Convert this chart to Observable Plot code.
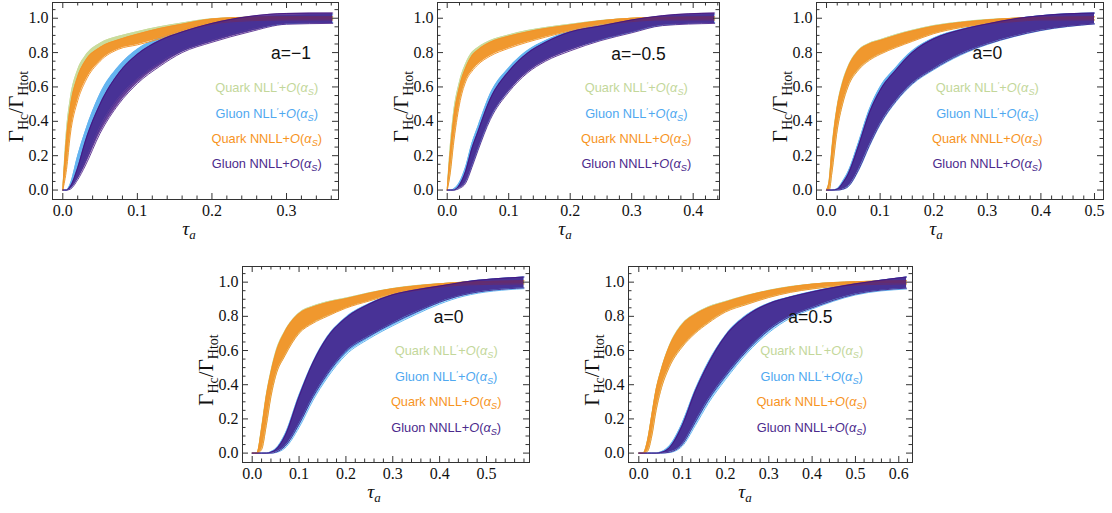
<!DOCTYPE html>
<html>
<head>
<meta charset="utf-8">
<script src="https://cdn.jsdelivr.net/npm/d3@7"></script>
<script src="https://cdn.jsdelivr.net/npm/@observablehq/plot@0.6"></script>
<style>
  body { margin: 0; background: #fff; }
  #fig { position: relative; width: 1112px; height: 513px; overflow: hidden; background: #fff; }
  #fig > svg { position: absolute; overflow: visible; }
</style>
</head>
<body>
<div id="fig"></div>
<script>
// Cumulative fraction Γ_Hc/Γ_Htot versus the angularity τ_a.
// Each curve is a band: lower (lo) and upper (hi) edge at the sampled τ_a.

// ---- a = −1 ----
const tauM1      = [0, 0.005, 0.01, 0.02, 0.03, 0.05, 0.075, 0.1, 0.13, 0.16, 0.2, 0.25, 0.3, 0.362];
const qNLLpLoM1  = [0, 0.15, 0.35, 0.55, 0.65, 0.76, 0.83, 0.855, 0.89, 0.928, 0.968, 0.987, 0.992, 0.992];
const qNLLpHiM1  = [0, 0.35, 0.53, 0.70, 0.78, 0.855, 0.895, 0.922, 0.95, 0.972, 0.997, 1.006, 1.008, 1.008];
const gNLLpLoM1  = [0, 0, 0.01, 0.075, 0.165, 0.365, 0.535, 0.645, 0.74, 0.81, 0.87, 0.93, 0.968, 0.975];
const gNLLpHiM1  = [0, 0, 0.035, 0.2, 0.34, 0.56, 0.72, 0.82, 0.885, 0.93, 0.972, 1.003, 1.015, 1.02];
const qNNLLLoM1  = [0, 0.12, 0.32, 0.52, 0.63, 0.75, 0.82, 0.845, 0.88, 0.92, 0.965, 0.985, 0.99, 0.99];
const qNNLLHiM1  = [0, 0.30, 0.48, 0.66, 0.75, 0.83, 0.875, 0.907, 0.94, 0.965, 0.995, 1.005, 1.008, 1.008];
const gNNLLLoM1  = [0, 0, 0.005, 0.06, 0.14, 0.33, 0.5, 0.62, 0.72, 0.8, 0.86, 0.92, 0.965, 0.97];
const gNNLLHiM1  = [0, 0, 0.02, 0.13, 0.28, 0.5, 0.68, 0.79, 0.87, 0.92, 0.97, 1.01, 1.028, 1.03];

// ---- a = −0.5 ----
const tauM05     = [0, 0.005, 0.01, 0.02, 0.03, 0.04, 0.05, 0.07, 0.1, 0.13, 0.16, 0.2, 0.25, 0.3, 0.35, 0.435];
const qNLLpLoM05 = [0, 0.11, 0.28, 0.52, 0.645, 0.70, 0.74, 0.79, 0.835, 0.868, 0.897, 0.93, 0.963, 0.982, 0.99, 0.99];
const qNLLpHiM05 = [0, 0.26, 0.44, 0.63, 0.735, 0.80, 0.83, 0.87, 0.903, 0.928, 0.946, 0.965, 0.987, 1.0, 1.005, 1.008];
const gNLLpLoM05 = [0, 0, 0, 0.015, 0.05, 0.14, 0.24, 0.42, 0.58, 0.69, 0.76, 0.82, 0.875, 0.92, 0.96, 0.975];
const gNLLpHiM05 = [0, 0, 0.005, 0.045, 0.135, 0.27, 0.37, 0.56, 0.71, 0.81, 0.87, 0.925, 0.96, 0.99, 1.01, 1.02];
const qNNLLLoM05 = [0, 0.10, 0.26, 0.50, 0.63, 0.69, 0.73, 0.78, 0.825, 0.86, 0.89, 0.926, 0.96, 0.98, 0.99, 0.99];
const qNNLLHiM05 = [0, 0.22, 0.40, 0.60, 0.71, 0.78, 0.815, 0.86, 0.895, 0.92, 0.94, 0.96, 0.985, 1.0, 1.005, 1.008];
const gNNLLLoM05 = [0, 0, 0, 0.01, 0.04, 0.13, 0.23, 0.41, 0.57, 0.68, 0.75, 0.81, 0.87, 0.915, 0.957, 0.97];
const gNNLLHiM05 = [0, 0, 0, 0.03, 0.11, 0.24, 0.34, 0.53, 0.69, 0.795, 0.86, 0.92, 0.955, 0.99, 1.015, 1.03];

// ---- a = 0 (τ_a up to 0.5) ----
const tauA0      = [0, 0.005, 0.01, 0.02, 0.03, 0.04, 0.06, 0.08, 0.1, 0.13, 0.16, 0.2, 0.25, 0.3, 0.35, 0.4, 0.5];
const qNLLpLoA0  = [0, 0, 0.105, 0.355, 0.505, 0.605, 0.705, 0.76, 0.795, 0.835, 0.87, 0.914, 0.948, 0.969, 0.982, 0.99, 0.99];
const qNLLpHiA0  = [0, 0.06, 0.245, 0.49, 0.63, 0.717, 0.815, 0.855, 0.875, 0.905, 0.93, 0.957, 0.978, 0.992, 1.0, 1.005, 1.008];
const gNLLpLoA0  = [0, 0, 0, 0, 0.004, 0.018, 0.115, 0.255, 0.38, 0.515, 0.615, 0.7, 0.785, 0.847, 0.893, 0.928, 0.967];
const gNLLpHiA0  = [0, 0, 0, 0.008, 0.05, 0.105, 0.28, 0.47, 0.6, 0.715, 0.81, 0.885, 0.935, 0.97, 0.997, 1.015, 1.03];
const qNNLLLoA0  = [0, 0, 0.1, 0.35, 0.5, 0.6, 0.7, 0.755, 0.79, 0.83, 0.865, 0.91, 0.945, 0.967, 0.98, 0.99, 0.99];
const qNNLLHiA0  = [0, 0.05, 0.23, 0.48, 0.62, 0.71, 0.81, 0.85, 0.87, 0.9, 0.925, 0.953, 0.975, 0.99, 1.0, 1.005, 1.008];
const gNNLLLoA0  = [0, 0, 0, 0, 0.005, 0.02, 0.12, 0.26, 0.385, 0.52, 0.62, 0.705, 0.79, 0.85, 0.895, 0.93, 0.967];
const gNNLLHiA0  = [0, 0, 0, 0.005, 0.04, 0.09, 0.26, 0.45, 0.58, 0.7, 0.8, 0.88, 0.932, 0.967, 0.996, 1.015, 1.03];

// ---- a = 0 (τ_a up to 0.58) ----
const tauB0      = [0, 0.01, 0.02, 0.03, 0.04, 0.05, 0.07, 0.1, 0.13, 0.16, 0.2, 0.25, 0.3, 0.35, 0.4, 0.45, 0.58];
const qNLLpLoB0  = [0, 0, 0.025, 0.165, 0.335, 0.455, 0.575, 0.705, 0.765, 0.805, 0.853, 0.895, 0.932, 0.955, 0.973, 0.985, 0.99];
const qNLLpHiB0  = [0, 0, 0.15, 0.34, 0.48, 0.59, 0.715, 0.82, 0.86, 0.885, 0.907, 0.938, 0.963, 0.98, 0.991, 1.0, 1.008];
const gNLLpLoB0  = [0, 0, 0, 0, 0, 0.003, 0.03, 0.15, 0.31, 0.44, 0.575, 0.67, 0.745, 0.812, 0.872, 0.917, 0.962];
const gNLLpHiB0  = [0, 0, 0, 0, 0.008, 0.025, 0.11, 0.34, 0.535, 0.68, 0.795, 0.875, 0.928, 0.957, 0.978, 1.0, 1.03];
const qNNLLLoB0  = [0, 0, 0.02, 0.16, 0.33, 0.45, 0.57, 0.70, 0.76, 0.80, 0.848, 0.89, 0.928, 0.952, 0.971, 0.983, 0.99];
const qNNLLHiB0  = [0, 0, 0.14, 0.33, 0.47, 0.58, 0.71, 0.815, 0.855, 0.88, 0.903, 0.935, 0.961, 0.978, 0.99, 1.0, 1.008];
const gNNLLLoB0  = [0, 0, 0, 0, 0, 0.005, 0.04, 0.17, 0.33, 0.46, 0.595, 0.685, 0.76, 0.825, 0.883, 0.925, 0.967];
const gNNLLHiB0  = [0, 0, 0, 0, 0.005, 0.02, 0.1, 0.33, 0.53, 0.675, 0.79, 0.872, 0.926, 0.955, 0.977, 1.0, 1.03];

// ---- a = 0.5 ----
const tauP05     = [0, 0.01, 0.02, 0.03, 0.04, 0.05, 0.07, 0.1, 0.13, 0.16, 0.2, 0.25, 0.3, 0.35, 0.4, 0.5, 0.618];
const qNLLpLoP05 = [0, 0, 0.012, 0.105, 0.255, 0.365, 0.505, 0.625, 0.705, 0.765, 0.83, 0.874, 0.913, 0.943, 0.962, 0.984, 0.99];
const qNLLpHiP05 = [0, 0, 0.075, 0.225, 0.375, 0.475, 0.625, 0.755, 0.815, 0.855, 0.887, 0.923, 0.952, 0.974, 0.989, 1.003, 1.008];
const gNLLpLoP05 = [0, 0, 0, 0, 0, 0, 0.003, 0.04, 0.16, 0.29, 0.43, 0.585, 0.705, 0.79, 0.843, 0.925, 0.96];
const gNLLpHiP05 = [0, 0, 0, 0, 0, 0.006, 0.04, 0.175, 0.37, 0.53, 0.69, 0.81, 0.877, 0.915, 0.945, 0.99, 1.03];
const qNNLLLoP05 = [0, 0, 0.01, 0.1, 0.25, 0.36, 0.5, 0.62, 0.7, 0.76, 0.825, 0.87, 0.91, 0.94, 0.96, 0.983, 0.99];
const qNNLLHiP05 = [0, 0, 0.07, 0.22, 0.37, 0.47, 0.62, 0.75, 0.81, 0.85, 0.883, 0.92, 0.95, 0.972, 0.988, 1.003, 1.008];
const gNNLLLoP05 = [0, 0, 0, 0, 0, 0, 0.005, 0.05, 0.18, 0.31, 0.45, 0.6, 0.72, 0.8, 0.85, 0.93, 0.965];
const gNNLLHiP05 = [0, 0, 0, 0, 0, 0.003, 0.03, 0.16, 0.36, 0.52, 0.685, 0.805, 0.874, 0.913, 0.943, 0.99, 1.03];

// Series names (legend order) and the a-value labels
const seriesNames = ["Quark NLL′", "Gluon NLL′", "Quark NNLL", "Gluon NNLL"];
const aLabels = ["a=−1", "a=−0.5", "a=0", "a=0", "a=0.5"];

// Tick labels
const yTicks = [0, 0.2, 0.4, 0.6, 0.8, 1.0];
const xTicksM1 = [0, 0.1, 0.2, 0.3];
const xTicksM05 = [0, 0.1, 0.2, 0.3, 0.4];
const xTicksA0 = [0, 0.1, 0.2, 0.3, 0.4, 0.5];
const xTicksB0 = [0, 0.1, 0.2, 0.3, 0.4, 0.5];
const xTicksP05 = [0, 0.1, 0.2, 0.3, 0.4, 0.5, 0.6];

// Band styles (drawn bottom to top in this order)
const bandFill = ["#c9dc9c", "#64b4f0", "#f29428", "#41117f"];
const bandOpacity = [1, 1, 0.95, 0.8];
const legendColor = ["#c3d79a", "#4fa8f0", "#f7941e", "#4b2a8c"];
const frameColor = "#333";
const serif = "'Liberation Serif', 'Times New Roman', serif";
const sans = "'Liberation Sans', Arial, sans-serif";

const panels = [
  { tau: tauM1, bands: [[qNLLpLoM1, qNLLpHiM1], [gNLLpLoM1, gNLLpHiM1], [qNNLLLoM1, qNNLLHiM1], [gNNLLLoM1, gNNLLHiM1]],
    xTicks: xTicksM1, xDomain: [-0.0138, 0.3697], fx: 52, fy: 2, fw: 286, fh: 197, xLabelX: 189,
    label: aLabels[0], labelX: 0.306, labelY: 0.795, legX: 0.2735 },
  { tau: tauM05, bands: [[qNLLpLoM05, qNLLpHiM05], [gNLLpLoM05, gNLLpHiM05], [qNNLLLoM05, qNNLLHiM05], [gNNLLLoM05, gNNLLHiM05]],
    xTicks: xTicksM05, xDomain: [-0.0158, 0.4428], fx: 437, fy: 2, fw: 282, fh: 197, xLabelX: 565,
    label: aLabels[1], labelX: 0.311, labelY: 0.792, legX: 0.3075 },
  { tau: tauA0, bands: [[qNLLpLoA0, qNLLpHiA0], [gNLLpLoA0, gNLLpHiA0], [qNNLLLoA0, qNNLLHiA0], [gNNLLLoA0, gNNLLHiA0]],
    xTicks: xTicksA0, xDomain: [-0.0187, 0.5168], fx: 816, fy: 2, fw: 287, fh: 197, xLabelX: 936,
    label: aLabels[2], labelX: 0.30, labelY: 0.795, legX: 0.30 },
  { tau: tauB0, bands: [[qNLLpLoB0, qNLLpHiB0], [gNLLpLoB0, gNLLpHiB0], [qNNLLLoB0, qNNLLHiB0], [gNNLLLoB0, gNNLLHiB0]],
    xTicks: xTicksB0, xDomain: [-0.0207, 0.5918], fx: 242, fy: 266, fw: 287, fh: 196, xLabelX: 374,
    label: aLabels[3], labelX: 0.419, labelY: 0.792, legX: 0.414 },
  { tau: tauP05, bands: [[qNLLpLoP05, qNLLpHiP05], [gNLLpLoP05, gNLLpHiP05], [qNNLLLoP05, qNNLLHiP05], [gNNLLLoP05, gNNLLHiP05]],
    xTicks: xTicksP05, xDomain: [-0.0238, 0.6317], fx: 628, fy: 266, fw: 284, fh: 196, xLabelX: 745,
    label: aLabels[4], labelX: 0.396, labelY: 0.792, legX: 0.399 }
];
const legendY = [0.595, 0.445, 0.297, 0.15];

const ml = 56, mr = 8, mt = 6, mb = 50;
const fig = d3.select("#fig");

// Replace a text node's content with styled runs (italic, sub/superscript)
function setRich(el, runs, size) {
  const t = d3.select(el);
  t.text(null);
  let shift = 0;
  for (const r of runs) {
    const target = r.sub ? r.sub : r.sup ? -r.sup : 0;
    const ts = t.append("tspan").text(r.t);
    if (target !== shift) { ts.attr("dy", target - shift); shift = target; }
    if (r.it) ts.attr("font-style", "italic");
    ts.attr("font-size", r.size ?? size);
  }
}
function legendRuns(name, size) {
  const runs = [];
  if (name.endsWith("′")) {
    runs.push({t: name.slice(0, -1)});
    runs.push({t: "′", sup: 4, size: size * 0.7});
  } else runs.push({t: name});
  runs.push({t: "+"}, {t: "O", it: true}, {t: "("}, {t: "α", it: true},
            {t: "S", it: true, sub: 3, size: size * 0.72}, {t: ")"});
  return runs;
}

const near = (v, arr) => arr.some(m => Math.abs(m - v) < 1e-6);
const legendSize = 12.8;
const tickSize = 16;

for (const p of panels) {
  const xEnd = p.xDomain[1];
  const xMinor = d3.range(0, xEnd, 0.02).map(v => +v.toFixed(2)).filter(v => !near(v, p.xTicks) && v <= xEnd);
  const yMinor = d3.range(0, 1.06, 0.05).map(v => +v.toFixed(2)).filter(v => !near(v, yTicks));

  const marks = [];
  p.bands.forEach(([lo, hi], k) => {
    const rows = p.tau.map((t, i) => ({tau: t, lo: lo[i], hi: hi[i]}));
    marks.push(Plot.areaY(rows, {x: "tau", y1: "lo", y2: "hi", fill: bandFill[k], fillOpacity: bandOpacity[k], curve: "monotone-x"}));
    marks.push(Plot.line(rows, {x: "tau", y: "hi", stroke: bandFill[k], strokeOpacity: bandOpacity[k], strokeWidth: 1, curve: "monotone-x"}));
    marks.push(Plot.line(rows, {x: "tau", y: "lo", stroke: bandFill[k], strokeOpacity: bandOpacity[k], strokeWidth: 1, curve: "monotone-x"}));
  });

  // a-value and legend labels
  marks.push(Plot.text([p.label], {x: p.labelX, y: p.labelY, text: d => d, fontSize: 17.5,
    fontFamily: sans, fill: "#111"}));
  seriesNames.forEach((name, k) => {
    marks.push(Plot.text([name], {x: p.legX, y: legendY[k], text: d => d, fontSize: legendSize,
      fontFamily: sans, fill: legendColor[k]}));
  });

  // Frame with inward ticks on all four sides
  marks.push(Plot.frame({stroke: frameColor, strokeWidth: 1}));
  marks.push(Plot.tickX(p.xTicks, {x: d => d, insetTop: p.fh - 6, stroke: frameColor}));
  marks.push(Plot.tickX(p.xTicks, {x: d => d, insetBottom: p.fh - 6, stroke: frameColor}));
  marks.push(Plot.tickX(xMinor, {x: d => d, insetTop: p.fh - 3.5, stroke: frameColor}));
  marks.push(Plot.tickX(xMinor, {x: d => d, insetBottom: p.fh - 3.5, stroke: frameColor}));
  marks.push(Plot.tickY(yTicks, {y: d => d, insetRight: p.fw - 6, stroke: frameColor}));
  marks.push(Plot.tickY(yTicks, {y: d => d, insetLeft: p.fw - 6, stroke: frameColor}));
  marks.push(Plot.tickY(yMinor, {y: d => d, insetRight: p.fw - 3.5, stroke: frameColor}));
  marks.push(Plot.tickY(yMinor, {y: d => d, insetLeft: p.fw - 3.5, stroke: frameColor}));
  marks.push(Plot.axisX(p.xTicks, {anchor: "bottom", tickSize: 0, tickPadding: 5, tickFormat: d3.format(".1f"),
    fontSize: tickSize, fontFamily: serif, fill: "#111", label: null}));
  marks.push(Plot.axisY(yTicks, {anchor: "left", tickSize: 0, tickPadding: 4, tickFormat: d3.format(".1f"),
    fontSize: tickSize, fontFamily: serif, fill: "#111", label: null}));

  const svg = Plot.plot({
    width: ml + p.fw + mr,
    height: mt + p.fh + mb,
    marginLeft: ml, marginRight: mr, marginTop: mt, marginBottom: mb,
    x: {domain: p.xDomain},
    y: {domain: [-0.055, 1.0915]},
    style: {fontFamily: serif, fontSize: tickSize + "px", color: "#111", background: "transparent"},
    marks
  });

  const s = d3.select(svg).style("left", (p.fx - ml) + "px").style("top", (p.fy - mt) + "px");

  // Serif tick labels
  s.selectAll('g[aria-label="x-axis tick label"], g[aria-label="y-axis tick label"]')
    .attr("font-family", serif).attr("font-size", tickSize)
    .selectAll("text").attr("font-family", serif).attr("font-size", tickSize);

  // Rich legend text: series name + O(α_S)
  s.selectAll("text").each(function () {
    const i = seriesNames.indexOf(this.textContent);
    if (i >= 0) setRich(this, legendRuns(seriesNames[i], legendSize), legendSize);
  });

  // y label: Γ_Hc / Γ_Htot
  const yl = s.append("text")
    .attr("transform", `translate(${ml - 29},${mt + p.fh / 2 + 6}) rotate(-90)`)
    .attr("text-anchor", "middle")
    .attr("font-family", serif)
    .attr("fill", "#111");
  setRich(yl.node(), [
    {t: "Γ"}, {t: "Hc", sub: 5, size: 14}, {t: "/"}, {t: "Γ"}, {t: "Htot", sub: 5, size: 14}
  ], 21);

  // x label: τ_a
  const xl = s.append("text")
    .attr("x", ml + (p.xLabelX - p.fx))
    .attr("y", mt + p.fh + 36)
    .attr("text-anchor", "middle")
    .attr("font-family", serif)
    .attr("fill", "#111");
  setRich(xl.node(), [{t: "τ", it: true}, {t: "a", it: true, sub: 4, size: 13}], 19.5);

  fig.node().appendChild(svg);
}
</script>
</body>
</html>
